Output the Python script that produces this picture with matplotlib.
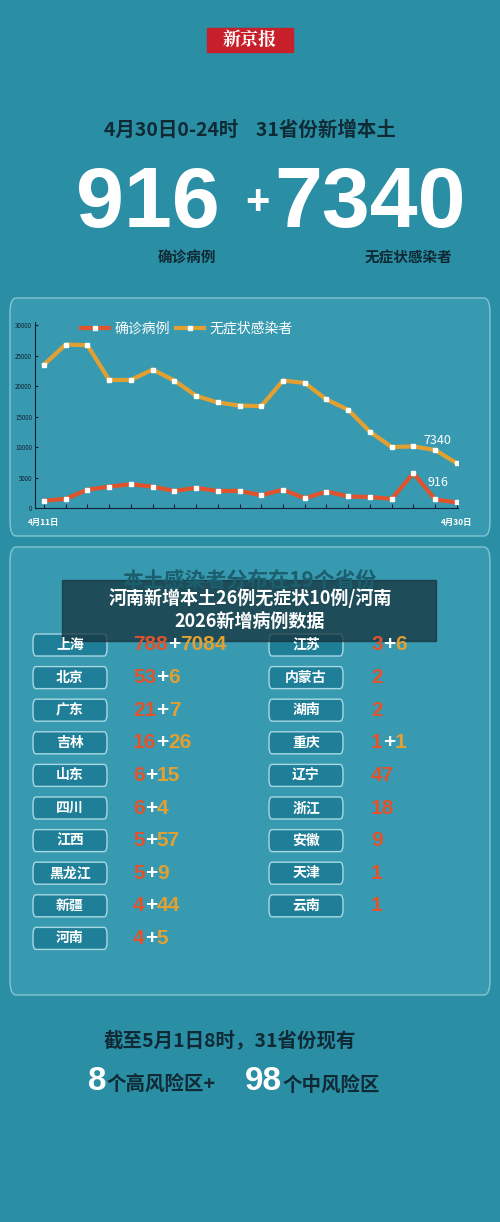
import matplotlib
matplotlib.use("Agg")
import matplotlib.pyplot as plt
from matplotlib.patches import FancyBboxPatch, Rectangle

plt.rcParams['font.family'] = ['Noto Sans CJK SC', 'DejaVu Sans']

days = list(range(20))
asym = [23500, 26800, 26700, 21000, 21000, 22700, 20900, 18400, 17300, 16800,
        16700, 20900, 20500, 17800, 16100, 12500, 10000, 10100, 9500, 7340]
conf = [1200, 1500, 3000, 3500, 3900, 3500, 2800, 3300, 2800, 2800,
        2100, 3000, 1600, 2700, 1900, 1800, 1500, 5700, 1400, 916]
yticks = [0, 5000, 10000, 15000, 20000, 25000, 30000]

left_prov = ["上海", "北京", "广东", "吉林", "山东", "四川", "江西", "黑龙江", "新疆", "河南"]
left_a = ["788", "53", "21", "16", "6", "6", "5", "5", "4", "4"]
left_b = ["7084", "6", "7", "26", "15", "4", "57", "9", "44", "5"]
right_prov = ["江苏", "内蒙古", "湖南", "重庆", "辽宁", "浙江", "安徽", "天津", "云南"]
right_a = ["3", "2", "2", "1", "47", "18", "9", "1", "1"]
right_b = ["6", "", "", "1", "", "", "", "", ""]

W, H = 500, 1222
BG = '#2a8ea4'
RED = '#e0532c'
ORG = '#e3a032'
fig = plt.figure(figsize=(5, 12.22), dpi=100, facecolor=BG)

def fx(x): return x / W
def fy(y): return 1 - y / H

def T(x, y, s, **kw):
    fig.text(fx(x), fy(y), s, **kw)

NUMF = ['Liberation Sans', 'DejaVu Sans']

# header
fig.patches.append(Rectangle((fx(207), fy(52)), fx(86), 24 / H, transform=fig.transFigure, color='#c8202a'))
T(250, 40, "新京报", color='white', fontsize=13, fontweight='bold', ha='center', va='center', family=['Noto Serif CJK SC', 'Noto Sans CJK SC'])
T(250, 130, "4月30日0-24时    31省份新增本土", color='#0f2a35', fontsize=14, fontweight='bold', ha='center', va='center')
T(148, 205, "916", color='white', fontsize=62, fontweight='bold', ha='center', va='center', family=NUMF)
T(257, 203, "+", color='white', fontsize=30, fontweight='bold', ha='center', va='center', family=NUMF)
T(370, 205, "7340", color='white', fontsize=62, fontweight='bold', ha='center', va='center', family=NUMF)
T(187, 258, "确诊病例", color='#0f2a35', fontsize=10.5, fontweight='bold', ha='center', va='center')
T(408, 258, "无症状感染者", color='#0f2a35', fontsize=10.5, fontweight='bold', ha='center', va='center')

# panels
for (y0, y1) in [(298, 536), (547, 995)]:
    fig.patches.append(FancyBboxPatch((fx(10), fy(y1)), fx(480), (y1 - y0) / H,
                                      boxstyle="round,pad=0,rounding_size=0.012", transform=fig.transFigure,
                                      facecolor='#3a9cb2', edgecolor='#8ccad6', lw=1, alpha=0.9, zorder=0))

# chart
ax = fig.add_axes([fx(35), fy(508), fx(458 - 35), (508 - 322) / H])
ax.set_zorder(3)
ax.set_facecolor('none')
ax.plot(days, asym, color=ORG, lw=3, marker='s', ms=2.5, mfc='white', mec='white', label="无症状感染者")
ax.plot(days, conf, color=RED, lw=3, marker='s', ms=2.5, mfc='white', mec='white', label="确诊病例")
ax.set_xlim(-0.41, 19.05)
ax.set_ylim(0, 30500)
ax.set_yticks(yticks)
ax.set_yticklabels([str(v) for v in yticks], fontsize=4.5, color='#123')
ax.set_xticks(days)
ax.set_xticklabels([])
ax.tick_params(axis='x', direction='in', length=3, color='#123')
ax.tick_params(axis='y', direction='in', length=2, color='#123', pad=2)
for s in ['top', 'right']:
    ax.spines[s].set_visible(False)
for s in ['left', 'bottom']:
    ax.spines[s].set_color('#123')
    ax.spines[s].set_linewidth(0.8)
ax.text(0, -0.08, "4月11日", transform=ax.get_xaxis_transform(), ha='center', va='center', fontsize=6, color='white', fontweight='bold')
ax.text(19, -0.08, "4月30日", transform=ax.get_xaxis_transform(), ha='center', va='center', fontsize=6, color='white', fontweight='bold')
ax.annotate(str(asym[-1]), (days[-1], asym[-1]), xytext=(-14, 14), textcoords='offset points', color='white', fontsize=9, ha='center')
ax.annotate(str(conf[-1]), (days[-1], conf[-1]), xytext=(-14, 12), textcoords='offset points', color='white', fontsize=9, ha='center')
h, l = ax.get_legend_handles_labels()
leg = ax.legend(h[::-1], l[::-1], loc='upper left', bbox_to_anchor=(0.08, 1.07), ncol=2, frameon=False,
                fontsize=10, labelcolor='white', handlelength=2, columnspacing=0.4, handletextpad=0.4)

# table title
T(250, 580, "本土感染者分布在19个省份", color='#1b5e6e', fontsize=15, fontweight='bold', ha='center', va='center')

def row(x_box, x_val, y, prov, a, b):
    fig.patches.append(FancyBboxPatch((fx(x_box), fy(y + 11)), fx(74), 22 / H,
                                      boxstyle="round,pad=0,rounding_size=0.006", transform=fig.transFigure,
                                      facecolor='#1f7f98', edgecolor='#a8d8e2', lw=1))
    T(x_box + 37, y, prov, color='white', fontsize=10, fontweight='bold', ha='center', va='center')
    t = fig.text(fx(x_val), fy(y), a, color=RED, fontsize=15, fontweight='bold', ha='left', va='center', family=NUMF)
    if b:
        fig.canvas.draw()
        bb = t.get_window_extent()
        t2 = fig.text(bb.x1 / W, fy(y), "+", color='white', fontsize=15, fontweight='bold', ha='left', va='center', family=NUMF)
        bb2 = t2.get_window_extent()
        fig.text(bb2.x1 / W, fy(y), b, color=ORG, fontsize=15, fontweight='bold', ha='left', va='center', family=NUMF)

for i in range(len(left_prov)):
    row(33, 133, 645 + i * 32.6, left_prov[i], left_a[i], left_b[i])
for i in range(len(right_prov)):
    row(269, 371, 645 + i * 32.6, right_prov[i], right_a[i], right_b[i])

# overlay
fig.patches.append(Rectangle((fx(62), fy(641)), fx(374), 61 / H, transform=fig.transFigure, color='#16323c', alpha=0.75))
T(250, 598, "河南新增本土26例无症状10例/河南", color='white', fontsize=13, fontweight='bold', ha='center', va='center')
T(250, 621, "2026新增病例数据", color='white', fontsize=13, fontweight='bold', ha='center', va='center')

# bottom
T(230, 1040, "截至5月1日8时，31省份现有", color='#0f2a35', fontsize=14, fontweight='bold', ha='center', va='center')
fig.text(fx(88), fy(1081), "8", color='white', fontsize=24, fontweight='bold', ha='left', va='center', family=NUMF)
fig.text(fx(107), fy(1085), "个高风险区+", color='#0f2a35', fontsize=14, fontweight='bold', ha='left', va='center')
fig.text(fx(245), fy(1081), "98", color='white', fontsize=24, fontweight='bold', ha='left', va='center', family=NUMF)
fig.text(fx(283), fy(1085), "个中风险区", color='#0f2a35', fontsize=14, fontweight='bold', ha='left', va='center')

fig.savefig("out.png", dpi=100, facecolor=BG)
